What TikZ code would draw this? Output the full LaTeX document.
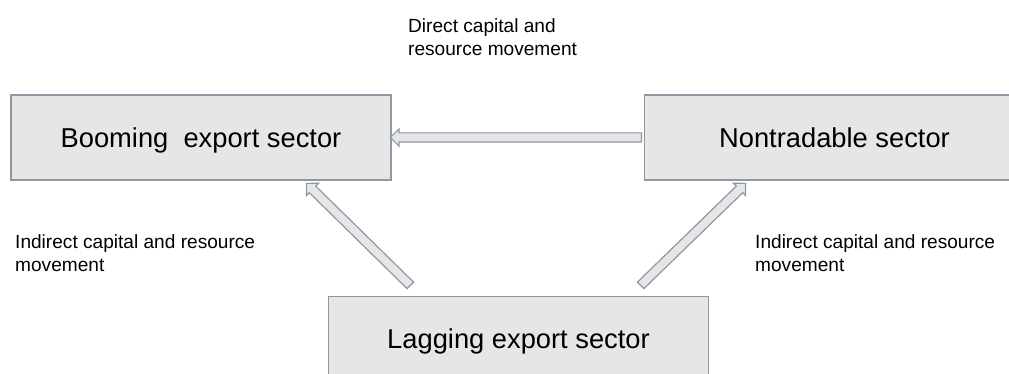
\documentclass[tikz,border=0pt]{standalone}
\usepackage{fontspec}
\setmainfont{Liberation Sans}
\usetikzlibrary{shapes.arrows,calc}
\definecolor{boxfill}{HTML}{E6E6E6}
\definecolor{boxline}{HTML}{8E98A5}
% block arrow from the first point to the second
\newcommand\blockflow[2]{%
  \path let \p1=(#1), \p2=(#2),
    \n1={atan2(\y2-\y1,\x2-\x1)},
    \n2={veclen(\x2-\x1,\y2-\y1)} in
    node[flow, minimum height=\n2, rotate=\n1] at ($(\p1)!0.5!(\p2)$) {};}
\begin{document}
\begin{tikzpicture}[x=1pt,y=-1pt,
  sector/.style={draw=boxline, fill=boxfill, line width=1.3pt,
    minimum width=380pt, minimum height=85pt, inner sep=0pt,
    text height=19.4pt, text depth=0pt,
    font=\fontsize{27.3}{32}\selectfont},
  note/.style={anchor=base west, align=left, inner sep=0pt,
    font=\fontsize{19.1}{23}\selectfont},
  flow/.style={single arrow, draw=boxline, fill=boxfill, line width=1.2pt,
    inner xsep=0pt, inner ysep=4pt, outer sep=0pt,
    single arrow head extend=4pt, single arrow tip angle=90}]
\useasboundingbox (0,0) rectangle (1009,374);

% sectors
\node[sector] (boom) at (201,137.5) {Booming\ \ export sector};
\node[sector] (nontrad) at (834.5,137.5) {Nontradable sector};
\node[sector] (lag) at (518.5,339) {Lagging export sector};

% free ends of the diagonal flows
\coordinate (lagL) at (412,287);
\coordinate (boomS) at (308,185);
\coordinate (lagR) at (639,287);
\coordinate (nontradS) at (744,185);
\coordinate (boomE) at ([xshift=1pt]boom.east);

% flows
\blockflow{nontrad.west}{boomE}
\blockflow{lagL}{boomS}
\blockflow{lagR}{nontradS}

% labels (anchored at the baseline of their last line)
\node[note] (direct) at (408,56) {Direct capital and\\resource movement};
\node[note] (indl) at (15,271) {Indirect capital and resource\\movement};
\node[note] (indr) at (755,271) {Indirect capital and resource\\movement};
\end{tikzpicture}
\end{document}
